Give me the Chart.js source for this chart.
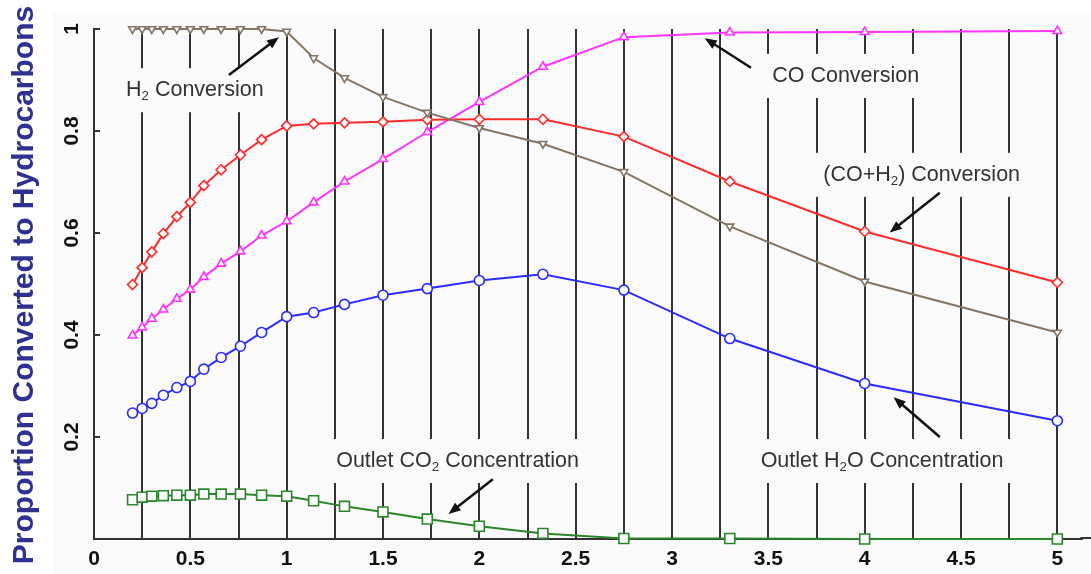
<!DOCTYPE html>
<html>
<head>
<meta charset="utf-8">
<script src="https://cdn.jsdelivr.net/npm/chart.js@4.4.0/dist/chart.umd.min.js"></script>
<style>
  html, body { margin: 0; padding: 0; background: #fff; }
  #chartContainer { width: 1091px; height: 574px; }
</style>
</head>
<body>
<div id="chartContainer"><canvas id="chart" width="1091" height="574"></canvas></div>
<script>
// data
const xValues = [0.2, 0.25, 0.3, 0.36, 0.43, 0.5, 0.57, 0.66, 0.76, 0.87, 1.0, 1.14, 1.3, 1.5, 1.73, 2.0, 2.33, 2.75, 3.3, 4.0, 5.0]
const h2Conversion = [1.0, 1.0, 1.0, 1.0, 1.0, 1.0, 1.0, 1.0, 1.0, 1.0, 0.995, 0.943, 0.904, 0.867, 0.836, 0.806, 0.775, 0.72, 0.613, 0.505, 0.405]
const coH2Conversion = [0.499, 0.532, 0.563, 0.599, 0.632, 0.66, 0.693, 0.724, 0.753, 0.783, 0.81, 0.814, 0.816, 0.818, 0.822, 0.823, 0.823, 0.789, 0.701, 0.603, 0.503]
const coConversion = [0.399, 0.415, 0.432, 0.45, 0.471, 0.489, 0.514, 0.54, 0.564, 0.595, 0.623, 0.66, 0.701, 0.745, 0.798, 0.857, 0.926, 0.984, 0.993, 0.994, 0.996]
const h2oOutlet = [0.247, 0.256, 0.266, 0.282, 0.297, 0.309, 0.333, 0.356, 0.378, 0.405, 0.436, 0.444, 0.46, 0.478, 0.491, 0.507, 0.519, 0.488, 0.393, 0.305, 0.232]
const co2Outlet = [0.077, 0.082, 0.084, 0.085, 0.086, 0.086, 0.088, 0.088, 0.088, 0.086, 0.084, 0.075, 0.064, 0.053, 0.039, 0.025, 0.011, 0.001, 0.001, 0.0, 0.0]
const xTickLabels = ['0', '0.5', '1', '1.5', '2', '2.5', '3', '3.5', '4', '4.5', '5']
const yTickValues = [0.2, 0.4, 0.6, 0.8, 1]
const yTickLabels = ['0.2', '0.4', '0.6', '0.8', '1']
const yTitle = 'Proportion Converted to Hydrocarbons'

// callouts: text pieces (sub = subscript), text left/centre, arrow tail -> head (data units)
const notes = [
  { parts: [['H'], ['2', 1], [' Conversion']], x: 0.166, y: 0.88, tail: [0.70, 0.91], head: [0.96, 0.984] },
  { parts: [['CO Conversion']], x: 3.52, y: 0.908, tail: [3.41, 0.924], head: [3.17, 0.982] },
  { parts: [['(CO+H'], ['2', 1], [') Conversion']], x: 3.785, y: 0.714, tail: [4.39, 0.679], head: [4.13, 0.601] },
  { parts: [['Outlet CO'], ['2', 1], [' Concentration']], x: 1.257, y: 0.153, tail: [2.07, 0.117], head: [1.84, 0.049] },
  { parts: [['Outlet H'], ['2', 1], ['O Concentration']], x: 3.46, y: 0.153, tail: [4.39, 0.2], head: [4.15, 0.278] }
]

const plotBg = '#fafafa'
const noteFont = 21.5

function points(ys) {
  return xValues.map((x, i) => ({ x: x, y: ys[i] }))
}

function series(label, ys, color, style, radius, rotation) {
  return {
    label: label,
    data: points(ys),
    borderColor: color,
    borderWidth: 2,
    pointStyle: style,
    pointRadius: radius,
    pointRotation: rotation || 0,
    pointBorderColor: color,
    pointBorderWidth: 1.6,
    pointBackgroundColor: plotBg,
    clip: false,
    tension: 0
  }
}

function partsWidth(ctx, parts) {
  let w = 0
  parts.forEach(p => {
    ctx.font = (p[1] ? noteFont * 0.62 : noteFont) + 'px "Liberation Sans", Arial, sans-serif'
    w += ctx.measureText(p[0]).width
  })
  return w
}

function drawParts(ctx, parts, x, y) {
  ctx.fillStyle = '#333'
  ctx.textBaseline = 'middle'
  ctx.textAlign = 'left'
  parts.forEach(p => {
    ctx.font = (p[1] ? noteFont * 0.62 : noteFont) + 'px "Liberation Sans", Arial, sans-serif'
    ctx.fillText(p[0], x, p[1] ? y + 6 : y)
    x += ctx.measureText(p[0]).width
  })
}

function arrow(ctx, x1, y1, x2, y2) {
  const a = Math.atan2(y2 - y1, x2 - x1)
  const len = 13
  ctx.strokeStyle = '#111'
  ctx.fillStyle = '#111'
  ctx.lineWidth = 2.5
  ctx.beginPath()
  ctx.moveTo(x1, y1)
  ctx.lineTo(x2 - Math.cos(a) * len * 0.8, y2 - Math.sin(a) * len * 0.8)
  ctx.stroke()
  ctx.beginPath()
  ctx.moveTo(x2, y2)
  ctx.lineTo(x2 - Math.cos(a - 0.38) * len, y2 - Math.sin(a - 0.38) * len)
  ctx.lineTo(x2 - Math.cos(a + 0.38) * len, y2 - Math.sin(a + 0.38) * len)
  ctx.closePath()
  ctx.fill()
}

const decor = {
  id: 'decor',
  beforeDraw(chart) {
    const ctx = chart.ctx
    ctx.save()
    ctx.fillStyle = '#fff'
    ctx.fillRect(0, 0, chart.width, chart.height)
    ctx.fillStyle = plotBg
    ctx.fillRect(53, 13, chart.width - 53, chart.height - 13)
    ctx.restore()
  },
  beforeDatasetsDraw(chart) {
    const ctx = chart.ctx
    const xs = chart.scales.x, ys = chart.scales.y
    ctx.save()
    notes.forEach(n => {
      const px = xs.getPixelForValue(n.x), py = ys.getPixelForValue(n.y)
      const w = partsWidth(ctx, n.parts)
      ctx.fillStyle = plotBg
      ctx.fillRect(px - 14, py - 22, w + 28, 44)
      drawParts(ctx, n.parts, px, py)
    })
    ctx.restore()
  },
  afterDatasetsDraw(chart) {
    const ctx = chart.ctx
    const xs = chart.scales.x, ys = chart.scales.y
    ctx.save()
    notes.forEach(n => {
      arrow(ctx, xs.getPixelForValue(n.tail[0]), ys.getPixelForValue(n.tail[1]),
        xs.getPixelForValue(n.head[0]), ys.getPixelForValue(n.head[1]))
    })
    ctx.restore()
  },
  afterDraw(chart) {
    const ctx = chart.ctx
    const ys = chart.scales.y
    const left = chart.chartArea.left
    ctx.save()
    // x axis line runs on to the right edge
    ctx.strokeStyle = '#333'
    ctx.lineWidth = 2
    ctx.beginPath()
    ctx.moveTo(chart.chartArea.right - 2, chart.chartArea.bottom - 1)
    ctx.lineTo(chart.width, chart.chartArea.bottom - 1)
    ctx.stroke()
    // y ticks pointing inwards + rotated labels
    ctx.fillStyle = '#111'
    ctx.font = 'bold 21px "Liberation Sans Narrow", "Liberation Sans", Arial, sans-serif'
    ctx.textAlign = 'center'
    ctx.textBaseline = 'middle'
    yTickValues.forEach((v, i) => {
      const py = ys.getPixelForValue(v)
      ctx.beginPath()
      ctx.moveTo(left, py)
      ctx.lineTo(left + 6, py)
      ctx.stroke()
      ctx.save()
      ctx.translate(72, py)
      ctx.rotate(-Math.PI / 2)
      ctx.fillText(yTickLabels[i], 0, 0)
      ctx.restore()
    })
    // y title
    ctx.fillStyle = '#2e3192'
    ctx.font = 'bold 30px "Liberation Sans", Arial, sans-serif'
    ctx.translate(25, 285)
    ctx.rotate(-Math.PI / 2)
    ctx.fillText(yTitle, 0, 0)
    ctx.restore()
  }
}

const chartCanvas = document.getElementById('chart').getContext('2d')
let chart = new Chart(chartCanvas, {
  type: 'line',
  data: {
    datasets: [
      series('H2 Conversion', h2Conversion, '#847464', 'triangle', 4.5, 180),
      series('(CO+H2) Conversion', coH2Conversion, '#ff2b2b', 'rectRot', 5),
      series('CO Conversion', coConversion, '#ff33ff', 'triangle', 5),
      series('Outlet H2O Concentration', h2oOutlet, '#2b2bff', 'circle', 5),
      series('Outlet CO2 Concentration', co2Outlet, '#2a862a', 'rect', 7)
    ]
  },
  options: {
    responsive: false,
    animation: false,
    devicePixelRatio: 1,
    layout: { padding: { top: 29, left: 0, right: 0, bottom: 0 } },
    plugins: { legend: { display: false }, tooltip: { enabled: false } },
    scales: {
      x: {
        type: 'linear',
        min: 0,
        max: 5.13,
        afterFit: s => { s.height = 35; s.paddingLeft = 0; s.paddingRight = 0 },
        grid: {
          drawTicks: false,
          lineWidth: 2,
          color: c => {
            const v = c.tick.value
            const ok = v > 0.01 && v < 5.01 && Math.abs(v * 4 - Math.round(v * 4)) < 1e-6
            return ok ? 'rgba(30,30,30,0.9)' : 'rgba(0,0,0,0)'
          }
        },
        border: { color: '#333', width: 2 },
        ticks: {
          stepSize: 0.25,
          includeBounds: false,
          autoSkip: false,
          maxRotation: 0,
          padding: 8,
          color: '#111',
          font: { family: '"Liberation Sans Narrow", "Liberation Sans", Arial, sans-serif', size: 21, weight: 'bold' },
          callback: v => {
            const i = Math.round(v * 2)
            return Math.abs(v * 2 - i) < 1e-6 && i <= 10 ? xTickLabels[i] : ''
          }
        }
      },
      y: {
        min: 0,
        max: 1,
        afterFit: s => { s.width = 94 },
        grid: { display: false },
        border: { color: '#333', width: 2 },
        ticks: { display: false }
      }
    }
  },
  plugins: [decor]
})
</script>
</body>
</html>
